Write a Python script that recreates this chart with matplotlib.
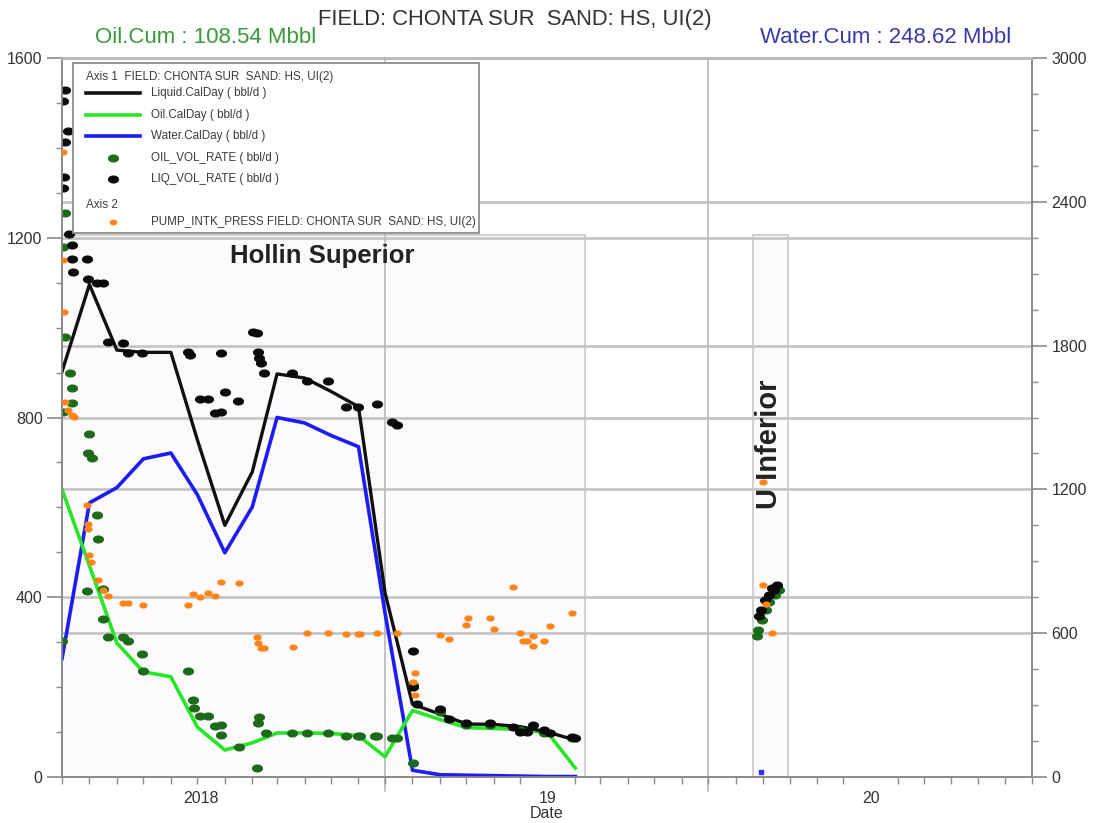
import numpy as np
import pandas as pd
import matplotlib
matplotlib.use("Agg")
import matplotlib.pyplot as plt
import matplotlib.dates as mdates
from matplotlib.patches import Rectangle
from matplotlib.lines import Line2D

plt.rcParams['font.family'] = ['Liberation Sans', 'DejaVu Sans']

# monthly calendar-day rates (Hollin Superior)
months = pd.date_range('2017-07-01', periods=20, freq='MS')
liquid_calday = [902, 1096, 950, 945, 945, 750, 560, 679, 897, 888,
                 858, 824, 410, 162, 140, 118, 117, 112, 100, 82]
oil_calday = [640, 470, 298, 234, 223, 111, 60, 76, 98, 98,
              97, 92, 45, 148, 128, 110, 108, 106, 98, 20]
water_calday = [263, 610, 644, 708, 721, 628, 499, 601, 800, 788,
                760, 735, 365, 15, 5, 4, 3, 2, 1, 1]

# single water point in U Inferior
water_ui_date = ['2019-08-30']
water_ui_val = [12]

# well tests
liq_dates = ['2017-07-04', '2017-07-02', '2017-07-08', '2017-07-04', '2017-07-03', '2017-07-02',
             '2017-07-09', '2017-07-12', '2017-07-12', '2017-07-29', '2017-07-13', '2017-07-30',
             '2017-08-10', '2017-08-16', '2017-08-22', '2017-09-08', '2017-09-14', '2017-09-29',
             '2017-11-20', '2017-11-23', '2017-12-28', '2017-12-04', '2017-12-13', '2018-01-01',
             '2018-01-16', '2017-12-21', '2017-12-28', '2018-02-02', '2018-02-06', '2018-02-07',
             '2018-02-09', '2018-02-11', '2018-02-14', '2018-03-18', '2018-04-04', '2018-04-27',
             '2018-05-18', '2018-05-31', '2018-06-22', '2018-07-09', '2018-07-14', '2018-08-02',
             '2018-08-02', '2018-08-06', '2018-09-01', '2018-09-11', '2018-09-30', '2018-10-28',
             '2018-11-23', '2018-12-01', '2018-12-08', '2018-12-15', '2018-12-28', '2019-01-03',
             '2019-01-28', '2019-02-01',
             '2019-08-28', '2019-08-30', '2019-09-03', '2019-09-08', '2019-09-14', '2019-09-17',
             '2019-09-11']
liq_vals = [1529, 1504, 1437, 1413, 1335, 1310,
            1208, 1184, 1153, 1153, 1124, 1108,
            1099, 1099, 968, 966, 943, 943,
            946, 940, 943, 841, 841, 857,
            837, 810, 812, 990, 988, 946,
            932, 921, 899, 899, 881, 881,
            823, 823, 830, 790, 783, 280,
            200, 162, 151, 129, 120, 120,
            111, 100, 100, 116, 105, 98,
            89, 86,
            358, 372, 394, 405, 416, 427,
            420]

oil_dates = ['2017-07-04', '2017-07-02', '2017-07-04', '2017-07-10', '2017-07-12', '2017-07-12',
             '2017-07-02', '2017-08-01', '2017-07-30', '2017-08-04', '2017-08-10', '2017-08-11',
             '2017-07-29', '2017-08-16', '2017-08-16', '2017-08-22', '2017-09-08', '2017-09-14',
             '2017-09-29', '2017-10-01', '2017-07-01', '2017-11-20', '2017-11-26', '2017-11-27',
             '2017-12-04', '2017-12-13', '2017-12-21', '2017-12-28', '2017-12-28', '2018-01-17',
             '2018-02-09', '2018-02-07', '2018-02-06', '2018-02-16', '2018-03-18', '2018-04-04',
             '2018-04-27', '2018-05-18', '2018-05-31', '2018-06-03', '2018-06-20', '2018-06-22',
             '2018-07-09', '2018-07-14', '2018-08-02',
             '2018-08-02', '2018-09-01', '2018-09-30', '2018-10-28', '2018-12-01', '2018-12-28',
             '2019-01-28',
             '2019-08-25', '2019-08-26', '2019-08-31', '2019-09-05', '2019-09-08', '2019-09-15',
             '2019-09-19']
oil_vals = [1255, 1179, 979, 899, 866, 832,
            812, 763, 721, 710, 583, 530,
            414, 418, 352, 312, 312, 303,
            274, 236, 303, 236, 171, 153,
            136, 136, 113, 116, 93, 67,
            134, 120, 20, 98, 98, 98,
            98, 91, 91, 91, 91, 91,
            87, 87, 31,
            205, 145, 116, 116, 105, 98,
            87,
            314, 327, 349, 372, 389, 405,
            416]

pip_dates = ['2017-07-02', '2017-07-02', '2017-07-03', '2017-07-04', '2017-07-08', '2017-07-12',
             '2017-07-14', '2017-07-29', '2017-07-30', '2017-07-30', '2017-07-31', '2017-08-03',
             '2017-08-11', '2017-08-16', '2017-08-22', '2017-09-08', '2017-09-14', '2017-10-01',
             '2017-11-20', '2017-11-26', '2017-12-04', '2017-12-13', '2017-12-21', '2017-12-28',
             '2018-01-17', '2018-02-06', '2018-02-07', '2018-02-11', '2018-02-14', '2018-03-19',
             '2018-04-04', '2018-04-27', '2018-05-18', '2018-05-31', '2018-06-03', '2018-06-22',
             '2018-07-14', '2018-08-04', '2018-08-02', '2018-08-04', '2018-09-01', '2018-09-11',
             '2018-09-30', '2018-10-03', '2018-10-28', '2018-11-01', '2018-11-23', '2018-12-01',
             '2018-12-04', '2018-12-08', '2018-12-15', '2018-12-15', '2018-12-28', '2019-01-03',
             '2019-01-28',
             '2019-09-01', '2019-09-05', '2019-09-11', '2019-09-01']
pip_vals = [2608, 2157, 1940, 1565, 1531, 1510,
            1502, 1135, 1056, 1035, 926, 897,
            822, 780, 755, 726, 726, 718,
            718, 764, 751, 768, 755, 814,
            809, 584, 559, 538, 538, 542,
            601, 601, 597, 597, 597, 601,
            601, 434, 396, 342, 592, 576,
            634, 663, 663, 617, 793, 601,
            567, 567, 588, 547, 567, 630,
            684,
            801, 722, 601, 1231]

# sand intervals (start, end, top on axis 1)
sand_names = ['Hollin Superior', 'U Inferior']
sand_start = ['2017-07-01', '2019-08-21']
sand_end = ['2019-02-12', '2019-09-29']
sand_top = 1206

oil_cum = 108.54
water_cum = 248.62

X0, X1 = pd.Timestamp('2017-07-01'), pd.Timestamp('2020-07-01')
Y1_MAX, Y2_MAX = 1600, 3000

fig = plt.figure(figsize=(10.94, 8.23), dpi=100)
ax = fig.add_axes([62 / 1094, 1 - 777 / 823, 970 / 1094, 719 / 823])
ax.set_xlim(X0, X1)
ax.set_ylim(0, Y1_MAX)

grid_c = '#c6c6c6'
# sand boxes
for s, e in zip(sand_start, sand_end):
    x0 = mdates.date2num(pd.Timestamp(s))
    x1 = mdates.date2num(pd.Timestamp(e))
    ax.add_patch(Rectangle((x0, 0), x1 - x0, sand_top, facecolor='#fcfafc',
                           edgecolor='#c4c4c4', lw=1.1, zorder=0.5))

# grid lines (axis 1 and axis 2)
for v in [400, 800, 1200]:
    ax.axhline(v, color=grid_c, lw=2.0, zorder=1)
for v in [600, 1200, 1800, 2400]:
    ax.axhline(v * Y1_MAX / Y2_MAX, color=grid_c, lw=2.0, zorder=1)
for d in ['2018-07-01', '2019-07-01']:
    ax.axvline(pd.Timestamp(d), ymin=-0.02, ymax=1, color='#bdbdbd', lw=1.3,
               zorder=1, clip_on=False)

t = np.linspace(0, 2 * np.pi, 40)
ell = list(zip(1.45 * np.cos(t), np.sin(t)))

ax.plot(months, water_calday, color='#1c1cf5', lw=2.6, zorder=3)
ax.plot(months, oil_calday, color='#26e626', lw=2.6, zorder=3)
ax.plot(months, liquid_calday, color='#111111', lw=2.4, zorder=3)
ax.plot(pd.to_datetime(water_ui_date), water_ui_val, ls='none', marker='s',
        ms=3, color='#3030ff', zorder=3)
ax.plot(pd.to_datetime(oil_dates), oil_vals, ls='none', marker=ell, ms=7,
        color='#1b6b1b', zorder=4)
ax.plot(pd.to_datetime(liq_dates), liq_vals, ls='none', marker=ell, ms=7,
        color='#0a0a0a', zorder=5)

ax2 = ax.twinx()
ax2.set_ylim(0, Y2_MAX)
ax2.plot(pd.to_datetime(pip_dates), pip_vals, ls='none', marker=ell, ms=5,
         color='#ff8417', zorder=6)

# sand labels
ax.text(pd.Timestamp('2018-04-21'), 1159, sand_names[0], ha='center', va='center',
        fontsize=18.5, fontweight='bold', color='#222222', zorder=6)
ax.text(pd.Timestamp('2019-09-08'), 740, sand_names[1], ha='center', va='center',
        rotation=90, fontsize=21, fontweight='bold', color='#222222', zorder=6)

# axes styling
spine_c = '#8a8a8a'
for a in (ax, ax2):
    for sp in a.spines.values():
        sp.set_color(spine_c)
        sp.set_linewidth(1.2)
    a.spines['top'].set_color('#b8b8b8')
    a.spines['top'].set_linewidth(1.8)

ax.set_yticks(np.arange(0, 1601, 400))
ax.set_yticks(np.arange(0, 1601, 100), minor=True)
ax2.set_yticks(np.arange(0, 3001, 600))
ax2.set_yticks(np.arange(0, 3001, 150), minor=True)
ax.set_xticks([pd.Timestamp('2017-12-05'), pd.Timestamp('2019-01-01'),
               pd.Timestamp('2020-01-01')])
ax.set_xticklabels(['2018', '19', '20'])
ax.set_xticks(pd.date_range(X0, X1, freq='MS'), minor=True)
ax.tick_params(axis='x', which='major', length=0, pad=10, labelsize=11.5, labelcolor='#333333')
ax.tick_params(axis='x', which='minor', length=5, color=spine_c, width=1)
ax.tick_params(axis='y', which='major', length=11, color=spine_c, width=1.2,
                labelsize=11.5, labelcolor='#333333', pad=3)
ax.tick_params(axis='y', which='minor', length=4, color=spine_c, width=1)
ax2.tick_params(axis='y', which='major', length=11, color=spine_c, width=1.2,
                labelsize=11.5, labelcolor='#333333', pad=3)
ax2.tick_params(axis='y', which='minor', length=4, color=spine_c, width=1)
ax.set_xlabel('Date', fontsize=11.5, color='#333333', labelpad=0)

# legend box drawn in axes fraction
tr = ax.transAxes
lg_c = '#3c3c3c'
lg_fs = 8.4
ax2.add_patch(Rectangle((0.0113, 0.7566), 0.4186, 0.2364, transform=tr,
                        facecolor='white', edgecolor='#8c8c8c', lw=1.3, zorder=10))
rows = [0.9736, 0.9513, 0.9207, 0.8915, 0.8609, 0.8317, 0.7955, 0.7719]
ax2.text(0.0247, rows[0], 'Axis 1  FIELD: CHONTA SUR  SAND: HS, UI(2)', transform=tr,
         fontsize=lg_fs, color=lg_c, va='center', zorder=11)
ax2.text(0.0247, rows[6], 'Axis 2', transform=tr, fontsize=lg_fs, color=lg_c,
         va='center', zorder=11)
lg_items = [('line', '#111111', 'Liquid.CalDay ( bbl/d )'),
            ('line', '#26e626', 'Oil.CalDay ( bbl/d )'),
            ('line', '#1c1cf5', 'Water.CalDay ( bbl/d )'),
            ('dot', '#1b6b1b', 'OIL_VOL_RATE ( bbl/d )'),
            ('dot', '#0a0a0a', 'LIQ_VOL_RATE ( bbl/d )'),
            (None, None, None),
            ('small', '#ff8417', 'PUMP_INTK_PRESS FIELD: CHONTA SUR  SAND: HS, UI(2)')]
for (kind, c, lab), y in zip(lg_items, rows[1:]):
    if kind is None:
        continue
    if kind == 'line':
        ax2.add_line(Line2D([0.0247, 0.0804], [y, y], transform=tr, color=c, lw=2.6,
                            zorder=11))
    else:
        ax2.add_line(Line2D([0.0526], [y], transform=tr, ls='none', marker=ell,
                            ms=7 if kind == 'dot' else 4.5, color=c, zorder=11))
    ax2.text(0.0918, y, lab, transform=tr, fontsize=lg_fs, color=lg_c, va='center',
             zorder=11)

# header texts
fig.text(0.4707, 0.9757, 'FIELD: CHONTA SUR  SAND: HS, UI(2)', ha='center', va='center',
         fontsize=15.8, color='#333333')
fig.text(0.0868, 0.955, f'Oil.Cum : {oil_cum:.2f} Mbbl', ha='left', va='center',
         fontsize=16, color='#3a9a3a')
fig.text(0.6947, 0.955, f'Water.Cum : {water_cum:.2f} Mbbl', ha='left', va='center',
         fontsize=16, color='#3a3aa6')

fig.savefig('out.png', dpi=100)
